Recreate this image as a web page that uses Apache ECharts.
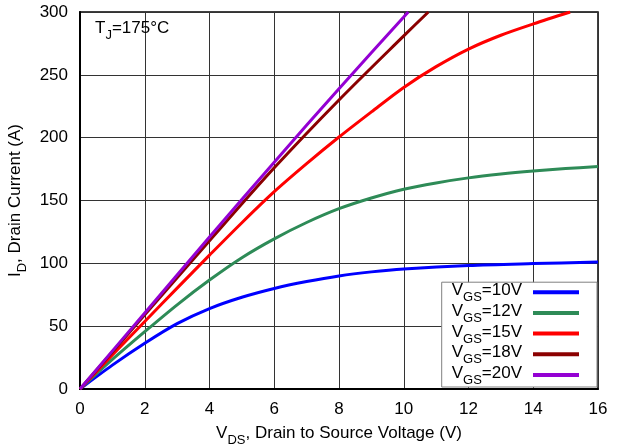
<!DOCTYPE html>
<html><head><meta charset="utf-8">
<script src="https://cdn.jsdelivr.net/npm/echarts@6/dist/echarts.min.js"></script>
<style>html,body{margin:0;padding:0;background:#fff}#c{width:620px;height:446px}</style>
</head><body><div id="c"></div>
<script>
const xTicks = [0,2,4,6,8,10,12,14,16];
const yTicks = [0,50,100,150,200,250,300];
const vgs10 = [[0,0],[1,19],[2,36.4],[3,52],[4,64],[5,73],[6,80],[7,85.5],[8,90],[9,93.2],[10,95.5],[12,98.3],[14,99.8],[16,101]];
const vgs12 = [[0,0],[1,23.5],[2,45.6],[3,67],[4,86.7],[5,104.5],[6,119.5],[7,132.5],[8,143.5],[9,152],[10,159],[11,164],[12,168],[13,171],[14,173.4],[15,175.4],[16,177]];
const vgs15 = [[0,0],[1,27],[2,53.7],[3,80.3],[4,106.5],[5,132.3],[6,157],[7,179.3],[8,200.5],[9,220.5],[10,240],[11,256.5],[12,270.5],[13,281.5],[14,290.5],[15.14,300]];
const vgs18 = [[0,0],[2,59],[4,118],[6,176],[8,230],[10,281],[10.76,300]];
const vgs20 = [[0,0],[2,60.5],[4,121],[6,180.5],[8,239],[10,296],[10.14,300]];
const seriesNames = ['10','12','15','18','20'];
const seriesColors = ['#0000ff','#2e8b57','#ff0000','#8b0000','#9400d3'];
const seriesData = [vgs10,vgs12,vgs15,vgs18,vgs20];

const FONT = 'Liberation Sans';
const rich = {
  m:{fontSize:17,fontFamily:FONT,color:'#000',fontWeight:'normal',lineHeight:20,verticalAlign:'top'},
  s:{fontSize:13,fontFamily:FONT,color:'#000',fontWeight:'normal',lineHeight:13,verticalAlign:'top',padding:[9,0,0,0]}
};
const chart = echarts.init(document.getElementById('c'));
chart.setOption({
  animation:false,
  backgroundColor:'#fff',
  textStyle:{fontFamily:FONT},
  grid:{left:80,right:22,top:12,bottom:57,show:true,borderColor:'#000',borderWidth:1.5,containLabel:false,outerBoundsMode:'none'},
  title:{text:'{m|T}{s|J}{m|=175°C}',left:90,top:15,textStyle:{rich:rich,fontWeight:'normal'}},
  legend:{
    orient:'vertical',right:23,bottom:59,align:'right',
    backgroundColor:'#fff',borderColor:'#808080',borderWidth:1,
    padding:[0,18,0,10],itemGap:-1.3,itemWidth:46,itemHeight:4,icon:'rect',
    data:seriesNames.map(n=>'V_GS='+n+'V'),
    formatter:function(n){return '{m|V}{s|GS}{m|'+n.slice(4)+'}';},
    textStyle:{rich:rich,padding:[0,6,0,0]}
  },
  xAxis:{type:'value',min:0,max:16,interval:2,
    axisLine:{show:true,lineStyle:{color:'#000',width:2}},
    axisTick:{show:false},
    axisLabel:{fontSize:17,color:'#000',fontFamily:FONT,margin:12},
    splitLine:{show:true,lineStyle:{color:'#333',width:1}},
    name:'{m|V}{s|DS}{m|, Drain to Source Voltage (V)}',nameLocation:'middle',nameGap:36,
    nameTextStyle:{rich:rich}
  },
  yAxis:{type:'value',min:0,max:300,interval:50,
    axisLine:{show:true,lineStyle:{color:'#000',width:2}},
    axisTick:{show:false},
    axisLabel:{fontSize:17,color:'#000',fontFamily:FONT,margin:12},
    splitLine:{show:true,lineStyle:{color:'#333',width:1}},
    name:'{m|I}{s|D}{m|, Drain Current (A)}',nameLocation:'middle',nameGap:46,
    nameTextStyle:{rich:rich}
  },
  series:seriesData.map((d,i)=>({
    type:'line',name:'V_GS='+seriesNames[i]+'V',data:d,smooth:0.3,symbol:'none',clip:true,
    lineStyle:{color:seriesColors[i],width:3},itemStyle:{color:seriesColors[i]}
  }))
});
</script></body></html>
